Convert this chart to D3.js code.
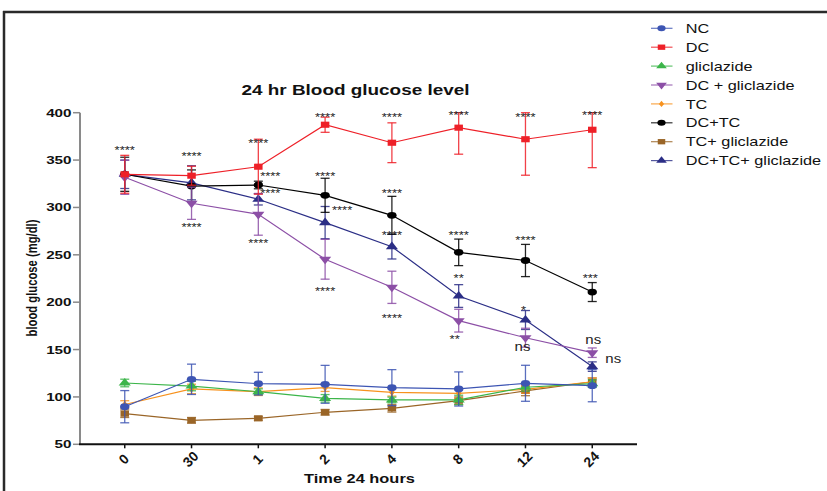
<!DOCTYPE html>
<html>
<head>
<meta charset="utf-8">
<script src="https://cdn.jsdelivr.net/npm/d3@7"></script>
<style>
  body { margin: 0; background: #fff; }
  text { font-family: "Liberation Sans", Arial, sans-serif; }
</style>
</head>
<body>
<script>
// time points (x categories)
const timeLabels = ['0', '30', '1', '2', '4', '8', '12', '24'];
const yTicks = [50, 100, 150, 200, 250, 300, 350, 400];

// group names in legend order
const groups = ['NC', 'DC', 'gliclazide', 'DC + gliclazide', 'TC', 'DC+TC', 'TC+ gliclazide', 'DC+TC+ gliclazide'];

// mean blood glucose (mg/dl)
const ncMean     = [89.7, 118.6, 114, 113.3, 109.8, 108.4, 114.4, 111.9];
const dcMean     = [335, 333.5, 343, 387.3, 368.3, 384.2, 372, 382];
const gliMean    = [114.7, 111.5, 105.5, 98.5, 96.8, 96.8, 110.2, 114];
const dcGliMean  = [331.8, 304.4, 292.7, 245.3, 215.7, 180.5, 162.5, 146.7];
const tcMean     = [92, 108.4, 105.5, 109.8, 104.9, 103.8, 108, 116];
const dcTcMean   = [335, 322.6, 323.7, 312.8, 291.7, 252.6, 244, 210.7];
const tcGliMean  = [82.3, 75.3, 77.4, 83.8, 88, 96, 106.3, 116];
const allMean    = [335, 326, 308.6, 284, 258.6, 206.5, 181.2, 132];

// error (SEM)
const ncErr    = [17, 16, 12, 20, 19, 18, 19, 17];
const dcErr    = [20, 10, 29, 8, 21, 28, 38, 40];
const gliErr   = [4, 5, 3, 4, 3, 5, 4, 4];
const dcGliErr = [18, 17, 22, 21, 17, 12, 10, 5];
const tcErr    = [4, 5, 4, 4, 4, 5, 4, 4];
const dcTcErr  = [18, 17, 4, 18, 20, 14, 17, 10];
const tcGliErr = [4, 3, 2, 3, 4, 4, 5, 4];
const allErr   = [15, 18, 6, 17, 13, 12, 10, 5];

// significance labels: time index, value level, label, side shift
const sigIndex = [0, 1, 1, 2, 2, 2, 2, 3, 3, 3, 3, 4, 4, 4, 4, 5, 5, 5, 5, 6, 6, 6, 6, 7, 7, 7, 7];
const sigLevel = [362.7, 357, 281.5, 370, 335.3, 317.4, 264.9, 397.6, 335.3, 299.4, 213.9,
                  397.6, 317.4, 273, 185.4, 407, 273, 227.7, 163.3, 397.6, 267.8, 193.9, 152.7,
                  402.9, 227.7, 160.1, 140];
const sigText  = ['****', '****', '****', '****', '****', '****', '****', '****', '****', '****', '****',
                  '****', '****', '****', '****', '****', '****', '**', '**', '****', '****', '*', 'ns',
                  '****', '***', 'ns', 'ns'];
const sigShift = [0, 0, 0, 0, 12, 12, 0, 0, 0, 17, 0, 0, 0, 0, 0, 0, 0, 0, -4, 0, 0, -2, -3, 0, -2, 1, 21];

const means = [ncMean, dcMean, gliMean, dcGliMean, tcMean, dcTcMean, tcGliMean, allMean];
const errs = [ncErr, dcErr, gliErr, dcGliErr, tcErr, dcTcErr, tcGliErr, allErr];
const colors = ['#3d55b3', '#ee2028', '#3cb54a', '#8c4fa6', '#f7921e', '#000000', '#9a6527', '#2b2e86'];
const shapes = ['circle', 'square', 'tri', 'triDown', 'diamond', 'circle', 'square', 'tri'];

const width = 827, height = 491;
const svg = d3.select('body').append('svg')
    .attr('width', width)
    .attr('height', height);

// stretch text horizontally, the picture is wider than tall
function stretch(sel, k) {
    sel.each(function() {
        const len = this.getComputedTextLength();
        d3.select(this).attr('textLength', len * k).attr('lengthAdjust', 'spacingAndGlyphs');
    });
}

// outer frame (top and left only are visible)
svg.append('line').attr('x1', 3).attr('x2', width).attr('y1', 12).attr('y2', 12)
    .attr('stroke', '#2a2a2a').attr('stroke-width', 2.5);
svg.append('line').attr('x1', 4).attr('x2', 4).attr('y1', 11).attr('y2', height)
    .attr('stroke', '#2a2a2a').attr('stroke-width', 2.5);

const x = d3.scalePoint()
    .domain(timeLabels)
    .range([80, 637])
    .padding(0.67);

const y = d3.scaleLinear()
    .domain([50, 400])
    .range([444.3, 112.7])
    .clamp(true);

// y axis
svg.append('line').attr('x1', 80).attr('x2', 80).attr('y1', y(400)).attr('y2', y(50))
    .attr('stroke', '#8a8a8a').attr('stroke-width', 2);
svg.selectAll('.ytick').data(yTicks).enter().append('line')
    .attr('x1', 73).attr('x2', 80)
    .attr('y1', d => y(d)).attr('y2', d => y(d))
    .attr('stroke', '#8a8a8a').attr('stroke-width', 1.5);
const yLab = svg.selectAll('.ylab').data(yTicks).enter().append('text')
    .attr('x', 71.5).attr('y', d => y(d))
    .attr('dy', '0.36em')
    .attr('text-anchor', 'end')
    .attr('font-size', 11)
    .attr('font-weight', 'bold')
    .attr('fill', '#111')
    .text(d => d);
stretch(yLab, 1.38);

// x axis
svg.append('line').attr('x1', 79).attr('x2', 637).attr('y1', y(50)).attr('y2', y(50))
    .attr('stroke', '#111').attr('stroke-width', 2);
svg.selectAll('.xtick').data(timeLabels).enter().append('line')
    .attr('x1', d => x(d)).attr('x2', d => x(d))
    .attr('y1', y(50)).attr('y2', y(50) + 4)
    .attr('stroke', '#111').attr('stroke-width', 1.5);
svg.selectAll('.xlab').data(timeLabels).enter().append('text')
    .attr('transform', d => `translate(${x(d) - 1},${459}) rotate(-45) scale(1.15,1.15)`)
    .attr('dy', '0.36em')
    .attr('text-anchor', 'middle')
    .attr('font-size', 12)
    .attr('font-weight', 'bold')
    .attr('fill', '#111')
    .text(d => d);

// titles
const title = svg.append('text')
    .attr('x', 355.5).attr('y', 94.5)
    .attr('text-anchor', 'middle')
    .attr('font-size', 15.5)
    .attr('font-weight', 'bold')
    .attr('fill', '#111')
    .text('24 hr Blood glucose level');
stretch(title, 1.22);

const xTitle = svg.append('text')
    .attr('x', 359.5).attr('y', 482.5)
    .attr('text-anchor', 'middle')
    .attr('font-size', 12.8)
    .attr('font-weight', 'bold')
    .attr('fill', '#111')
    .text('Time 24 hours');
stretch(xTitle, 1.28);

svg.append('text')
    .attr('transform', 'translate(36.5,278) rotate(-90) scale(1,1.3)')
    .attr('text-anchor', 'middle')
    .attr('font-size', 11.5)
    .attr('font-weight', 'bold')
    .attr('fill', '#111')
    .attr('textLength', 117)
    .attr('lengthAdjust', 'spacingAndGlyphs')
    .text('blood glucose (mg/dl)');

// marker path for a shape
function markerPath(shape, s) {
    if (shape === 'circle') return d3.symbol(d3.symbolCircle, 50 * s)();
    if (shape === 'square') return d3.symbol(d3.symbolSquare, 52 * s)();
    if (shape === 'tri') return d3.symbol(d3.symbolTriangle, 46 * s)();
    if (shape === 'triDown') return d3.symbol(d3.symbolTriangle, 46 * s)();
    return d3.symbol(d3.symbolDiamond, 22 * s)();
}
function markerRot(shape) {
    return shape === 'triDown' ? ' rotate(180)' : '';
}

const line = d3.line()
    .x((d, i) => x(timeLabels[i]))
    .y(d => y(d));

// draw last group first so NC sits on top
for (let g = groups.length - 1; g >= 0; g--) {
    const col = colors[g];
    const grp = svg.append('g');
    const pts = means[g].map((m, i) => ({ t: timeLabels[i], m: m, e: errs[g][i] }));

    // error bars
    const eb = grp.selectAll('.eb').data(pts).enter().append('g')
        .attr('stroke', col).attr('stroke-width', 1.3).attr('stroke-opacity', 0.85);
    eb.append('line')
        .attr('x1', d => x(d.t)).attr('x2', d => x(d.t))
        .attr('y1', d => y(d.m - d.e)).attr('y2', d => y(d.m + d.e));
    eb.append('line')
        .attr('x1', d => x(d.t) - 4.5).attr('x2', d => x(d.t) + 4.5)
        .attr('y1', d => y(d.m + d.e)).attr('y2', d => y(d.m + d.e));
    eb.append('line')
        .attr('x1', d => x(d.t) - 4.5).attr('x2', d => x(d.t) + 4.5)
        .attr('y1', d => y(d.m - d.e)).attr('y2', d => y(d.m - d.e));

    grp.append('path')
        .datum(means[g])
        .attr('fill', 'none')
        .attr('stroke', col)
        .attr('stroke-width', 1.2)
        .attr('d', line);

    grp.selectAll('.mk').data(pts).enter().append('path')
        .attr('d', markerPath(shapes[g], 1))
        .attr('transform', d => `translate(${x(d.t)},${y(d.m)}) scale(1.18,0.85)${markerRot(shapes[g])}`)
        .attr('fill', col);
}

// significance marks
const sig = svg.selectAll('.sig').data(sigText).enter().append('text')
    .attr('x', (d, i) => x(timeLabels[sigIndex[i]]) + sigShift[i])
    .attr('y', (d, i) => y(sigLevel[i]))
    .attr('dy', d => d === 'ns' ? '0.3em' : '0.62em')
    .attr('text-anchor', 'middle')
    .attr('font-size', d => d === 'ns' ? 13 : 10)
    .attr('fill', '#222')
    .text(d => d);
stretch(sig.filter(d => d !== 'ns'), 1.3);
stretch(sig.filter(d => d === 'ns'), 1.15);

// legend
const legend = svg.selectAll('.leg').data(groups).enter().append('g')
    .attr('transform', (d, i) => `translate(651,${28.3 + i * 18.9})`);
legend.append('line')
    .attr('x1', 0).attr('x2', 21.5)
    .attr('stroke', (d, i) => colors[i])
    .attr('stroke-width', 1.2)
    .attr('stroke-opacity', 0.8);
legend.append('path')
    .attr('d', (d, i) => markerPath(shapes[i], 0.75))
    .attr('transform', (d, i) => `translate(10.5,0) scale(1.2,0.85)${markerRot(shapes[i])}`)
    .attr('fill', (d, i) => colors[i]);
const legText = legend.append('text')
    .attr('x', 34.7)
    .attr('dy', '0.36em')
    .attr('font-size', 13)
    .attr('fill', '#111')
    .text(d => d);
stretch(legText, 1.25);
</script>
</body>
</html>
